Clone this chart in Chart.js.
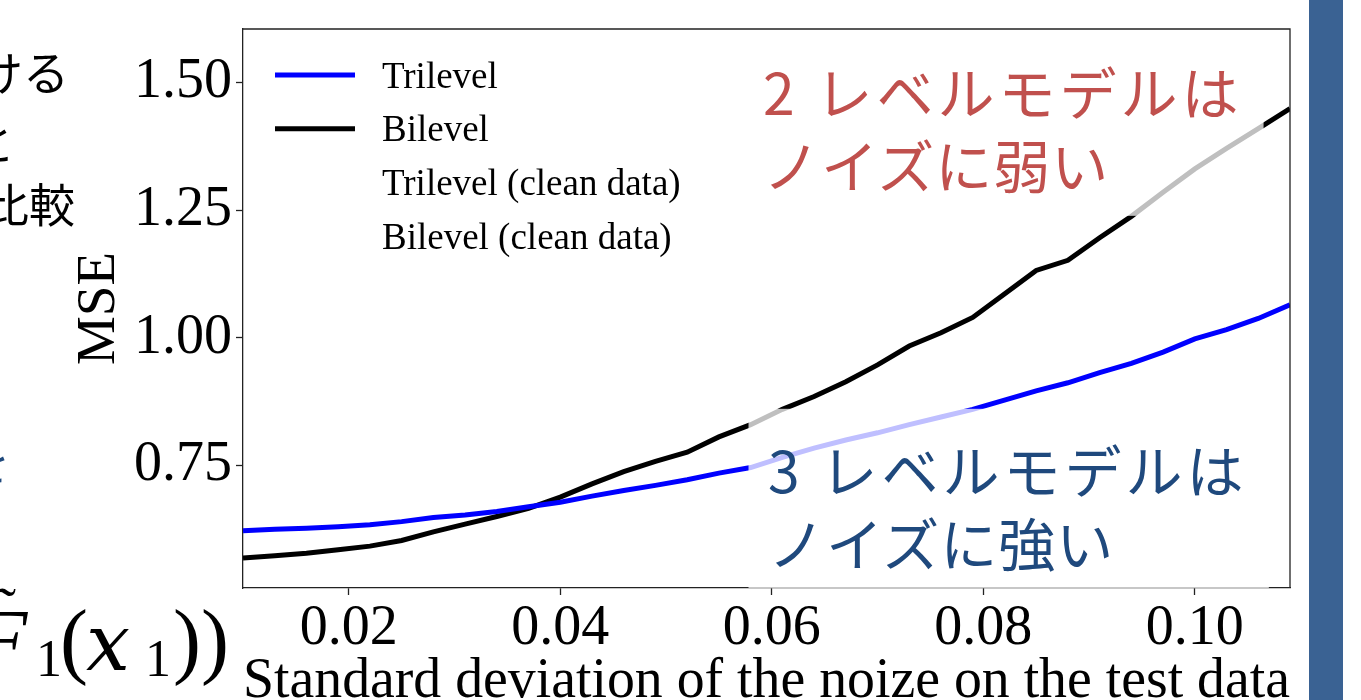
<!DOCTYPE html>
<html><head><meta charset="utf-8">
<script src="https://cdn.jsdelivr.net/npm/chart.js@4.4.1/dist/chart.umd.min.js"></script>
<style>
html,body{margin:0;padding:0;background:#fff;}
#wrap{position:relative;width:1361px;height:700px;overflow:hidden;background:#fff;}
#c{position:absolute;left:0;top:0;}
.jp{position:absolute;font-family:"Noto Sans CJK JP";white-space:nowrap;}
.ann{position:absolute;font-family:"Noto Sans CJK JP";white-space:nowrap;font-size:57px;line-height:73px;}
.l1{letter-spacing:4px;}
.l2{letter-spacing:1px;}
.m{position:absolute;font-family:"Liberation Serif";white-space:nowrap;line-height:1;color:#000;}
#bar{position:absolute;left:1309px;top:0;width:34px;height:700px;background:#3a6293;}
</style></head>
<body><div id="wrap">
<canvas id="c" width="1361" height="700"></canvas>
<div class="jp" style="right:1292px;top:40px;font-size:46px;line-height:60px;">における</div>
<div class="jp" style="right:1346px;top:110px;font-size:46px;line-height:60px;">と</div>
<div class="jp" style="right:1286px;top:172px;font-size:46px;line-height:60px;">を比較</div>
<div class="jp" style="right:1351px;top:430px;font-size:46px;line-height:60px;color:#1f497d;">を</div>
<div class="m" style="left:-24px;top:598px;font-size:84px;font-style:italic;">F</div>
<div class="m" style="left:-4px;top:578px;font-size:60px;">˜</div>
<div class="m" style="left:36px;top:633px;font-size:52px;">1</div>
<div class="m" style="left:60px;top:598px;font-size:84px;">(</div>
<div class="m" style="left:86px;top:604px;font-size:78px;font-style:italic;font-family:'DejaVu Serif';">x</div>
<div class="m" style="left:145px;top:633px;font-size:52px;">1</div>
<div class="m" style="left:173px;top:598px;font-size:84px;">))</div>
<div class="ann" style="left:763px;top:54px;color:#c0504d;"><span class="l1">2 レベルモデルは</span><br><span class="l2">ノイズに弱い</span></div>
<div class="ann" style="left:768px;top:432px;color:#1f497d;"><span class="l1">3 レベルモデルは</span><br><span class="l2">ノイズに強い</span></div>
<div id="bar"></div>
</div>
<script>
const xValues = [0.010,0.013,0.016,0.019,0.022,0.025,0.028,0.031,0.034,0.037,0.040,0.043,0.046,0.049,0.052,0.055,0.058,0.061,0.064,0.067,0.070,0.073,0.076,0.079,0.082,0.085,0.088,0.091,0.094,0.097,0.100,0.103,0.106,0.109];
const trilevel = [0.622,0.625,0.627,0.630,0.634,0.640,0.648,0.653,0.660,0.669,0.678,0.690,0.701,0.711,0.722,0.735,0.746,0.766,0.784,0.800,0.814,0.830,0.845,0.860,0.878,0.896,0.912,0.932,0.950,0.972,0.998,1.016,1.038,1.065];
const bilevel = [0.569,0.573,0.578,0.585,0.592,0.603,0.620,0.635,0.650,0.666,0.688,0.714,0.738,0.758,0.776,0.806,0.830,0.860,0.885,0.914,0.947,0.984,1.010,1.040,1.086,1.132,1.152,1.196,1.238,1.285,1.331,1.371,1.410,1.449];
const trilevelClean = [];
const bilevelClean = [];
const seriesLabels = ['Trilevel','Bilevel','Trilevel (clean data)','Bilevel (clean data)'];
const seriesColors = ['#0000ff','#000000','#ffffff','#ffffff'];
const xTicks = [0.02,0.04,0.06,0.08,0.10];
const yTicks = [0.75,1.00,1.25,1.50];
const xTitle = 'Standard deviation of the noize on the test data';
const yTitle = 'MSE';

const toPts = arr => arr.map((v,i)=>({x:xValues[i], y:v}));
const seriesData = [trilevel, bilevel, trilevelClean, bilevelClean];

const fadeBoxes = [
  {x0:0.0480, x1:0.1065, y0:1.239, y1:1.70},
  {x0:0.0578, x1:0.1070, y0:0.30, y1:0.861}
];

const fadePlugin = {
  id:'fade',
  afterDatasetsDraw(chart){
    const {ctx, chartArea:a, scales:{x,y}} = chart;
    ctx.save();
    ctx.beginPath(); ctx.rect(a.left,a.top,a.right-a.left,a.bottom-a.top); ctx.clip();
    ctx.fillStyle='rgba(255,255,255,0.75)';
    fadeBoxes.forEach(b=>{
      const px0=x.getPixelForValue(b.x0), px1=x.getPixelForValue(b.x1);
      const py0=y.getPixelForValue(b.y1), py1=y.getPixelForValue(b.y0);
      ctx.fillRect(px0,py0,px1-px0,py1-py0);
    });
    ctx.restore();
  }
};
const framePlugin = {
  id:'frame',
  afterDraw(chart){
    const {ctx, chartArea:a} = chart;
    ctx.save();
    ctx.strokeStyle='#222'; ctx.lineWidth=1.3;
    ctx.beginPath();
    ctx.moveTo(a.left,a.top); ctx.lineTo(a.right,a.top); ctx.lineTo(a.right,a.bottom);
    ctx.stroke();
    ctx.restore();
  }
};
const legendPlugin = {
  id:'innerLegend',
  afterDraw(chart){
    const {ctx, chartArea:a} = chart;
    ctx.save();
    ctx.font='37px "Liberation Serif"';
    ctx.textBaseline='middle';
    chart.data.datasets.forEach((ds,i)=>{
      const yy = 75 + i*53.7;
      ctx.strokeStyle = ds.borderColor; ctx.lineWidth = 5;
      ctx.beginPath(); ctx.moveTo(a.left+32, yy); ctx.lineTo(a.left+112, yy); ctx.stroke();
      ctx.fillStyle='#000';
      ctx.fillText(ds.label, a.left+139, yy+3);
    });
    ctx.restore();
  }
};

new Chart(document.getElementById('c'), {
  type:'line',
  data:{
    datasets: seriesLabels.map((l,i)=>({
      label:l, data:toPts(seriesData[i]), borderColor:seriesColors[i], backgroundColor:seriesColors[i],
      borderWidth:5, pointRadius:0, tension:0, fill:false
    }))
  },
  options:{
    responsive:false, animation:false, devicePixelRatio:1,
    layout:{padding:{left:0, top:29, right:71, bottom:0}},
    plugins:{legend:{display:false}, tooltip:{enabled:false}},
    scales:{
      x:{
        type:'linear', min:0.01, max:0.109,
        afterBuildTicks: s => { s.ticks = xTicks.map(v=>({value:v})); },
        afterFit: s => { s.height = 112; s.paddingLeft = 0; s.paddingRight = 0; },
        ticks:{callback:v=>Number(v).toFixed(2), font:{family:'Liberation Serif', size:56, lineHeight:1}, color:'#000', padding:6, maxRotation:0, autoSkip:false},
        grid:{display:true, drawOnChartArea:false, drawTicks:true, tickLength:7, tickColor:'#222', tickWidth:1.3},
        border:{display:true, color:'#222', width:1.3},
        title:{display:true, text:xTitle, color:'#000', font:{family:'Liberation Serif', size:56, lineHeight:1}, padding:{top:0,bottom:-10}}
      },
      y:{
        type:'linear', min:0.51, max:1.605,
        afterBuildTicks: s => { s.ticks = yTicks.map(v=>({value:v})); },
        afterFit: s => { s.width = 243; s.paddingTop = 0; s.paddingBottom = 0; },
        ticks:{callback:v=>Number(v).toFixed(2), font:{family:'Liberation Serif', size:56, lineHeight:1}, color:'#000', padding:4, autoSkip:false},
        grid:{display:true, drawOnChartArea:false, drawTicks:true, tickLength:7, tickColor:'#222', tickWidth:1.3},
        border:{display:true, color:'#222', width:1.3},
        title:{display:true, text:yTitle, color:'#000', font:{family:'Liberation Serif', size:55, lineHeight:1}, padding:{top:72,bottom:0}}
      }
    }
  },
  plugins:[fadePlugin, framePlugin, legendPlugin]
});
</script>
</body></html>
